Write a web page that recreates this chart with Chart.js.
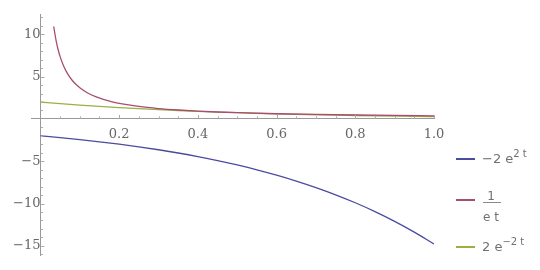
<!DOCTYPE html>
<html>
<head>
<meta charset="utf-8">
<script src="https://cdn.jsdelivr.net/npm/chart.js@4"></script>
<style>
    html, body { margin: 0; padding: 0; background: #fff; }
    #wrap { position: relative; width: 540px; height: 270px; }
    #legend {
        position: absolute; left: 456px; top: 0; width: 84px; height: 270px;
        font-family: "DejaVu Sans", sans-serif; font-size: 13px; color: #707070;
    }
    .swatch { position: absolute; left: 0; width: 19px; height: 2px; }
    .label { position: absolute; left: 26px; white-space: nowrap; line-height: 14px; }
    .frac { position: absolute; left: 26px; width: 18px; text-align: center; font-size: 12px; line-height: 12px; }
    .bar { position: absolute; left: 27px; width: 18px; height: 1px; background: #888; }
    sup { font-size: 10px; vertical-align: 6px; line-height: 0; }
</style>
</head>
<body>
<div id="wrap">
    <canvas id="plot" width="540" height="270"></canvas>
    <div id="legend">
        <span class="swatch" style="top:158px; background:#4b4ba0"></span>
        <span class="label" style="top:152px">−2 e<sup>2 t</sup></span>

        <span class="swatch" style="top:199px; background:#a64d70"></span>
        <span class="frac" style="top:190px">1</span>
        <span class="bar" style="top:202px"></span>
        <span class="frac" style="top:211px">e t</span>

        <span class="swatch" style="top:246px; background:#9cae45"></span>
        <span class="label" style="top:240px">2 e<sup>−2 t</sup></span>
    </div>
</div>
<script>
    // t samples for the exponentials
    const tExp = [0, 0.05, 0.1, 0.15, 0.2, 0.25, 0.3, 0.35, 0.4, 0.45, 0.5,
        0.55, 0.6, 0.65, 0.7, 0.75, 0.8, 0.85, 0.9, 0.95, 1.0];
    // -2 e^(2t)
    const blueValues = [-2, -2.210, -2.443, -2.700, -2.984, -3.297, -3.644, -4.028,
        -4.451, -4.919, -5.437, -6.008, -6.640, -7.339, -8.110, -8.963, -9.906,
        -10.948, -12.099, -13.372, -14.778];
    // 2 e^(-2t)
    const greenValues = [2, 1.810, 1.637, 1.482, 1.341, 1.213, 1.098, 0.993, 0.899,
        0.813, 0.736, 0.666, 0.602, 0.545, 0.493, 0.446, 0.404, 0.365, 0.331,
        0.299, 0.271];

    // t samples for 1/(e t), denser near the start
    const tRed = [0.0337, 0.04, 0.045, 0.05, 0.06, 0.07, 0.08, 0.09, 0.10, 0.12,
        0.14, 0.16, 0.18, 0.20, 0.25, 0.30, 0.35, 0.40, 0.45, 0.50, 0.60, 0.70,
        0.80, 0.90, 1.00];
    const redValues = [10.916, 9.197, 8.175, 7.358, 6.131, 5.255, 4.598, 4.088,
        3.679, 3.066, 2.628, 2.299, 2.044, 1.839, 1.472, 1.226, 1.051, 0.920,
        0.818, 0.736, 0.613, 0.526, 0.460, 0.409, 0.368];

    // Tick labels / tick marks
    const xMajorTicks = [0.2, 0.4, 0.6, 0.8, 1.0];
    const xMinorTicks = [0.05, 0.1, 0.15, 0.25, 0.3, 0.35, 0.45, 0.5, 0.55, 0.65,
        0.7, 0.75, 0.85, 0.9, 0.95];
    const yMajorTicks = [-15, -10, -5, 5, 10];
    const yMinorTicks = [-16, -14, -13, -12, -11, -9, -8, -7, -6, -4, -3, -2, -1,
        1, 2, 3, 4, 6, 7, 8, 9, 11, 12];

    const toPoints = (xs, ys) => xs.map((x, i) => ({ x: x, y: ys[i] }));

    // Draw Mathematica-style tick marks on the axes
    const tickMarks = {
        id: "tickMarks",
        afterDraw(chart) {
            const { ctx, scales } = chart;
            const x0 = scales.x.getPixelForValue(0);
            const y0 = scales.y.getPixelForValue(0);
            ctx.save();
            ctx.strokeStyle = "#aaa";
            ctx.lineWidth = 1;
            ctx.beginPath();
            xMajorTicks.forEach((v) => {
                const px = Math.round(scales.x.getPixelForValue(v)) + 0.5;
                ctx.moveTo(px, y0);
                ctx.lineTo(px, y0 - 4);
            });
            xMinorTicks.forEach((v) => {
                const px = Math.round(scales.x.getPixelForValue(v)) + 0.5;
                ctx.moveTo(px, y0);
                ctx.lineTo(px, y0 - 2.5);
            });
            yMajorTicks.forEach((v) => {
                const py = Math.round(scales.y.getPixelForValue(v)) + 0.5;
                ctx.moveTo(x0, py);
                ctx.lineTo(x0 + 4, py);
            });
            yMinorTicks.forEach((v) => {
                const py = Math.round(scales.y.getPixelForValue(v)) + 0.5;
                ctx.moveTo(x0, py);
                ctx.lineTo(x0 + 2.5, py);
            });
            ctx.stroke();
            ctx.restore();
        },
    };

    const lineStyle = {
        borderWidth: 1.3,
        pointRadius: 0,
        fill: false,
        cubicInterpolationMode: "monotone",
    };

    new Chart(document.getElementById("plot"), {
        type: "line",
        data: {
            datasets: [
                Object.assign({ label: "-2e^2t", data: toPoints(tExp, blueValues), borderColor: "#4b4ba0" }, lineStyle),
                Object.assign({ label: "1/(e t)", data: toPoints(tRed, redValues), borderColor: "#a64d70" }, lineStyle),
                Object.assign({ label: "2e^-2t", data: toPoints(tExp, greenValues), borderColor: "#9cae45" }, lineStyle),
            ],
        },
        options: {
            responsive: false,
            animation: false,
            layout: { padding: { left: 31, right: 106, top: 12, bottom: 8 } },
            plugins: { legend: { display: false }, tooltip: { enabled: false } },
            scales: {
                x: {
                    type: "linear",
                    min: -0.024,
                    max: 1.0,
                    position: { y: 0 },
                    afterBuildTicks: (scale) => {
                        scale.ticks = xMajorTicks.map((v) => ({ value: v }));
                    },
                    grid: { display: false, drawTicks: false },
                    border: { display: true, color: "#999", width: 1 },
                    ticks: {
                        padding: 8,
                        maxRotation: 0,
                        autoSkip: false,
                        color: "#666",
                        font: { family: "DejaVu Serif", size: 13 },
                        callback: (v) => Number(v).toFixed(1),
                    },
                },
                y: {
                    type: "linear",
                    min: -16.1,
                    max: 12.3,
                    position: { x: 0 },
                    afterBuildTicks: (scale) => {
                        scale.ticks = yMajorTicks.map((v) => ({ value: v }));
                    },
                    grid: { display: false, drawTicks: false },
                    border: { display: true, color: "#999", width: 1 },
                    ticks: {
                        padding: 7,
                        autoSkip: false,
                        color: "#666",
                        font: { family: "DejaVu Serif", size: 13 },
                        callback: (v) => (v < 0 ? "−" + Math.abs(v) : String(v)),
                    },
                },
            },
        },
        plugins: [tickMarks],
    });
</script>
</body>
</html>
